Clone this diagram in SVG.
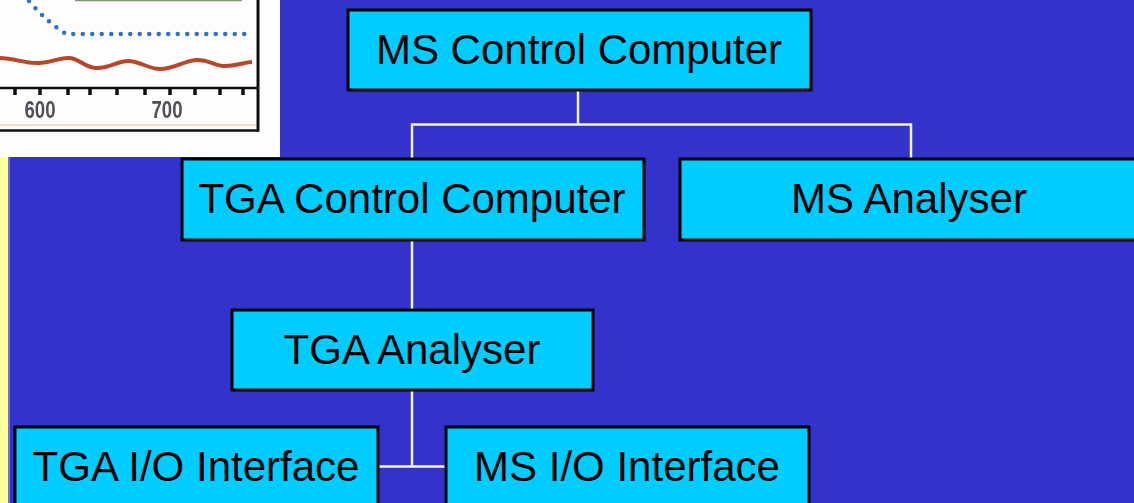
<svg xmlns="http://www.w3.org/2000/svg" width="1134" height="503" viewBox="0 0 1134 503">
  <style>
    .box { fill: #00CCFF; stroke: #000000; stroke-width: 3; }
    .label { font-family: "Liberation Sans", Arial, sans-serif; font-size: 42px; fill: #000000; text-anchor: middle; }
    .wire { fill: none; stroke: #F4F4FF; stroke-width: 2.5; }
    .tick { stroke: #111111; stroke-width: 3.5; }
    .axisnum { font-family: "Liberation Sans", Arial, sans-serif; font-size: 23px; font-weight: bold; fill: #4E5058; text-anchor: middle; }
  </style>
  <defs>
    <filter id="soft" x="-5%" y="-5%" width="110%" height="110%">
      <feGaussianBlur stdDeviation="0.6"/>
    </filter>
  </defs>

  <!-- slide background -->
  <rect x="0" y="0" width="1134" height="503" fill="#3333CC"/>
  <rect x="0" y="150" width="8" height="353" fill="#FFFFA0"/>
  <rect x="8" y="150" width="2" height="353" fill="#7070DD"/>

  <!-- chart fragment, upper left -->
  <g id="chart" filter="url(#soft)">
    <rect x="0" y="0" width="280" height="157" fill="#FDFDFD"/>
    <line x1="75" y1="0.5" x2="242" y2="0.5" stroke="#7E9A70" stroke-width="1.5"/>
    <!-- dotted series -->
    <path d="M29,1 Q48,23 66,34 L246,34" fill="none" stroke="#2F72C4" stroke-width="4.5" stroke-dasharray="0 9.5" stroke-linecap="round"/>
    <!-- wavy series -->
    <path d="M0,58 C15,58 25,64 40,63 C55,62 60,57 70,58 C80,59 85,68 97,68 C110,68 118,61 128,61 C140,61 148,69 160,69 C175,69 185,60 197,60 C210,60 215,66 225,66 C238,66 245,62 252,62" fill="none" stroke="#B8472C" stroke-width="4"/>
    <!-- x axis -->
    <line x1="0" y1="88" x2="258" y2="88" stroke="#111111" stroke-width="2.5"/>
    <line class="tick" x1="15" y1="88" x2="15" y2="95"/>
    <line class="tick" x1="40" y1="88" x2="40" y2="95"/>
    <line class="tick" x1="68" y1="88" x2="68" y2="95"/>
    <line class="tick" x1="90" y1="88" x2="90" y2="95"/>
    <line class="tick" x1="117" y1="88" x2="117" y2="95"/>
    <line class="tick" x1="145" y1="88" x2="145" y2="95"/>
    <line class="tick" x1="170" y1="88" x2="170" y2="95"/>
    <line class="tick" x1="195" y1="88" x2="195" y2="95"/>
    <line class="tick" x1="220" y1="88" x2="220" y2="95"/>
    <line class="tick" x1="243" y1="88" x2="243" y2="95"/>
    <text class="axisnum" x="40" y="118" textLength="31" lengthAdjust="spacingAndGlyphs">600</text>
    <text class="axisnum" x="167" y="118" textLength="31" lengthAdjust="spacingAndGlyphs">700</text>
    <!-- frame -->
    <line x1="0" y1="125" x2="258" y2="125" stroke="#F2D2B4" stroke-width="1.5"/>
    <line x1="0" y1="130.5" x2="259" y2="130.5" stroke="#111111" stroke-width="2.5"/>
    <line x1="258" y1="0" x2="258" y2="131.5" stroke="#111111" stroke-width="3"/>
  </g>

  <!-- connectors -->
  <g id="connectors" class="wire">
    <path d="M578,90 V124.5"/>
    <path d="M412,159 V124.5 H911 V159"/>
    <path d="M412,240 V310"/>
    <path d="M412,390 V466.5"/>
    <path d="M378,466.5 H446"/>
  </g>

  <!-- nodes -->
  <g id="ms-control-computer">
    <rect class="box" x="348" y="10" width="463" height="80"/>
    <text class="label" x="579" y="64">MS Control Computer</text>
  </g>
  <g id="tga-control-computer">
    <rect class="box" x="182" y="159" width="462" height="81"/>
    <text class="label" x="412" y="213">TGA Control Computer</text>
  </g>
  <g id="ms-analyser">
    <rect class="box" x="680" y="159" width="460" height="81"/>
    <text class="label" x="909" y="213">MS Analyser</text>
  </g>
  <g id="tga-analyser">
    <rect class="box" x="232" y="310" width="361" height="80"/>
    <text class="label" x="412" y="364">TGA Analyser</text>
  </g>
  <g id="tga-io-interface">
    <rect class="box" x="15" y="427" width="363" height="82"/>
    <text class="label" x="196" y="481">TGA I/O Interface</text>
  </g>
  <g id="ms-io-interface">
    <rect class="box" x="446" y="427" width="363" height="82"/>
    <text class="label" x="627" y="481">MS I/O Interface</text>
  </g>
</svg>
